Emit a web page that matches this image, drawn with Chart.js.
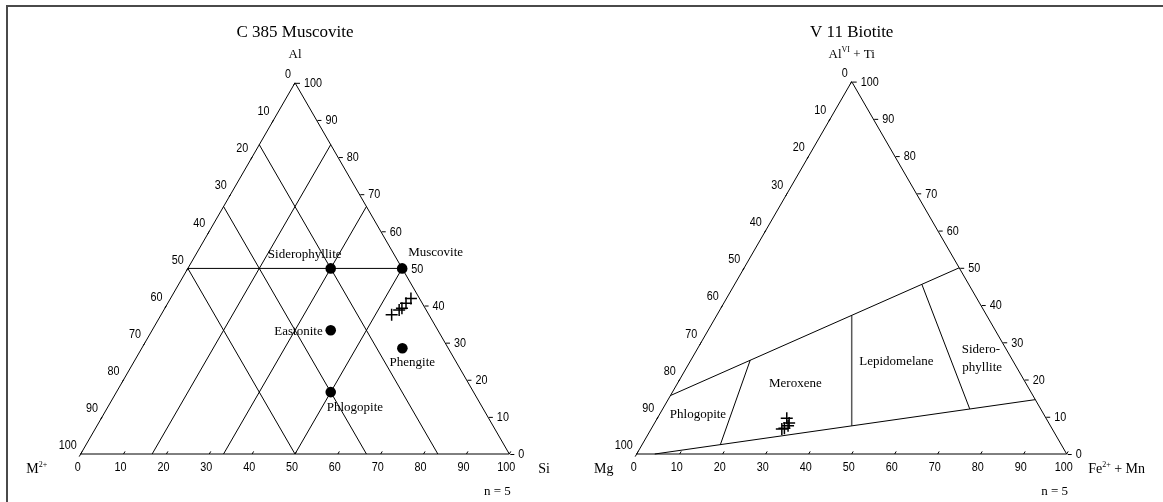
<!DOCTYPE html>
<html>
<head>
<meta charset="utf-8">
<script src="https://cdn.jsdelivr.net/npm/chart.js@4.4.1/dist/chart.umd.min.js"></script>
<style>
  html, body { margin: 0; padding: 0; background: #fff; }
  #wrap { position: relative; width: 1163px; height: 502px; overflow: hidden; background: #fff; }
  #wrap canvas { position: absolute; top: 0; }
  #frame { position: absolute; left: 6px; top: 5px; width: 1300px; height: 700px;
           border-left: 2px solid #4a4a4a; border-top: 2px solid #4a4a4a; pointer-events: none; }
</style>
</head>
<body>
<div id="wrap">
  <canvas id="muscovitePlot" width="581" height="502" style="left:0"></canvas>
  <canvas id="biotitePlot" width="582" height="502" style="left:581px"></canvas>
  <div id="frame"></div>
</div>
<script>
// ---- Ternary values in percent: [apex component, right-corner component] ----

const tickValues = [0, 10, 20, 30, 40, 50, 60, 70, 80, 90, 100];

// Muscovite diagram (Al apex, Si right corner, M2+ left corner)
const muscoviteGuides = [
  [[83.33, 0], [0, 83.33]],     // M2+ = 16.7
  [[66.67, 0], [0, 66.67]],     // M2+ = 33.3
  [[50, 0], [0, 50]],           // M2+ = 50
  [[83.33, 16.67], [0, 16.67]], // Si = 16.7
  [[66.67, 33.33], [0, 33.33]], // Si = 33.3
  [[50, 50], [0, 50]],          // Si = 50
  [[50, 0], [50, 50]]           // Al = 50
];
const micaEndMembers = ['Muscovite', 'Siderophyllite', 'Eastonite', 'Phengite', 'Phlogopite'];
const micaAl = [50, 50, 33.33, 28.5, 16.67];
const micaSi = [50, 33.33, 41.67, 60.8, 50];

// Sample C 385 analyses
const c385Al = [41.9, 40.6, 39.3, 38.8, 37.5];
const c385Si = [56.1, 55.6, 55.3, 54.9, 53.8];

// Biotite diagram (AlVI+Ti apex, Fe2+ + Mn right corner, Mg left corner)
const biotiteFieldLines = [
  [[15.7, 0], [50, 50]],
  [[0, 4.2], [14.6, 85.4]],
  [[25.2, 13.8], [2.5, 18.2]],
  [[37.2, 31.4], [7.6, 46.2]],
  [[45.6, 43.5], [12.1, 71.4]]
];
const biotiteFieldNames = ['Phlogopite', 'Meroxene', 'Lepidomelane', 'Sidero-', 'phyllite'];

// Sample V 11 analyses
const v11AlTi = [9.6, 8.3, 7.6, 6.9, 6.7];
const v11FeMn = [30.1, 31.3, 31.4, 30.9, 30.4];

// ---- Geometry helpers ----
const H = Math.sqrt(3) / 2;
function toXY(top, right) {
  return { x: (right + top / 2) / 100, y: (top / 100) * H };
}

const SERIF = '"Liberation Serif", "Times New Roman", serif';
const SANS = '"Liberation Sans", Arial, sans-serif';

// Draws text made of plain and superscript parts; y is the baseline.
function drawRich(ctx, parts, x, y, align, size) {
  const supSize = Math.round(size * 0.6);
  const widths = parts.map(([t, sup]) => {
    ctx.font = (sup ? supSize : size) + 'px ' + SERIF;
    return ctx.measureText(t).width;
  });
  const total = widths.reduce((a, b) => a + b, 0);
  let cx = align === 'center' ? x - total / 2 : (align === 'right' ? x - total : x);
  ctx.textAlign = 'left';
  ctx.textBaseline = 'alphabetic';
  parts.forEach(([t, sup], i) => {
    ctx.font = (sup ? supSize : size) + 'px ' + SERIF;
    ctx.fillText(t, cx, sup ? y - size * 0.4 : y);
    cx += widths[i];
  });
}

// Slightly condensed sans-serif numbers for the axis ticks.
function tickText(ctx, text, x, y, align) {
  ctx.save();
  ctx.translate(x, y);
  ctx.scale(0.9, 1);
  ctx.textAlign = align;
  ctx.textBaseline = 'middle';
  ctx.fillText(text, 0, 0);
  ctx.restore();
}

function lineDataset(seg, color, width) {
  return {
    data: seg.map(([t, r]) => toXY(t, r)),
    showLine: true, borderColor: color, borderWidth: width,
    pointRadius: 0, clip: false, order: 2
  };
}

function outlineDataset() {
  return lineDataset([[100, 0], [0, 100], [0, 0], [100, 0]], '#000', 1);
}

function decorPlugin(cfg) {
  return {
    id: 'ternaryDecor',
    beforeDatasetsDraw(chart) {
      const { ctx, scales: { x, y } } = chart;
      const P = (t, r) => { const p = toXY(t, r); return [x.getPixelForValue(p.x), y.getPixelForValue(p.y)]; };
      ctx.save();
      ctx.fillStyle = '#000';
      ctx.font = '13px ' + SERIF;
      cfg.labels.forEach(lb => {
        const [px, py] = P(lb.at[0], lb.at[1]);
        ctx.textAlign = lb.align;
        ctx.textBaseline = 'middle';
        ctx.fillText(lb.text, px + lb.dx, py + lb.dy);
      });
      ctx.restore();
    },
    afterDatasetsDraw(chart) {
      const { ctx, scales: { x, y } } = chart;
      const P = (t, r) => { const p = toXY(t, r); return [x.getPixelForValue(p.x), y.getPixelForValue(p.y)]; };
      ctx.save();
      ctx.strokeStyle = '#000';
      ctx.fillStyle = '#000';
      ctx.lineWidth = 1;
      ctx.font = '12px ' + SANS;
      tickValues.forEach(v => {
        // base axis (right-corner component)
        const [bx, by] = P(0, v);
        ctx.beginPath(); ctx.moveTo(bx, by); ctx.lineTo(bx + 1.5, by - 2.6); ctx.stroke();
        tickText(ctx, String(v), bx - 3, by + 14, 'center');
        // left edge (left-corner component)
        const [lx, ly] = P(100 - v, 0);
        ctx.beginPath(); ctx.moveTo(lx, ly); ctx.lineTo(lx - 1.5, ly + 2.6); ctx.stroke();
        tickText(ctx, String(v), lx - 4, ly - 8, 'right');
        // right edge (apex component)
        const [rx, ry] = P(v, 100 - v);
        ctx.beginPath(); ctx.moveTo(rx + 1, ry + 0.5); ctx.lineTo(rx + 5, ry + 0.5); ctx.stroke();
        tickText(ctx, String(v), rx + 9, ry + 1, 'left');
      });
      const [ax] = P(100, 0);
      const [lx0, ly0] = P(0, 0);
      const [rx0] = P(0, 100);
      drawRich(ctx, [[cfg.title, false]], ax, 37, 'center', 17);
      drawRich(ctx, cfg.apexLabel, ax, 57.5, 'center', 13);
      drawRich(ctx, cfg.leftLabel, lx0 + cfg.leftDx, ly0 + 19, 'center', 14);
      drawRich(ctx, cfg.rightLabel, rx0 + cfg.rightDx, ly0 + 19, 'left', 14);
      drawRich(ctx, [['n = 5', false]], rx0 - 12, ly0 + 41, 'center', 13);
      ctx.restore();
    }
  };
}

function makeChart(id, datasets, padding, cfg) {
  return new Chart(document.getElementById(id), {
    type: 'scatter',
    data: { datasets },
    options: {
      responsive: false,
      animation: false,
      events: [],
      layout: { padding },
      scales: {
        x: { type: 'linear', min: 0, max: 1, display: false },
        y: { type: 'linear', min: 0, max: H, display: false }
      },
      plugins: { legend: { display: false }, tooltip: { enabled: false } }
    },
    plugins: [decorPlugin(cfg)]
  });
}

// ---- Muscovite plot ----
const muscLabelStyle = [
  { align: 'left', dx: 6, dy: -16 },
  { align: 'center', dx: -26, dy: -13.5 },
  { align: 'right', dx: -8, dy: 1 },
  { align: 'center', dx: 10, dy: 14 },
  { align: 'left', dx: -4, dy: 15 }
];
const muscDatasets = [
  {
    data: c385Al.map((a, i) => toXY(a, c385Si[i])),
    pointStyle: 'cross', pointRadius: 6, borderColor: '#000', borderWidth: 1.5,
    clip: false, order: 0
  },
  {
    data: micaAl.map((a, i) => toXY(a, micaSi[i])),
    pointStyle: 'circle', pointRadius: 5.3, backgroundColor: '#000', borderWidth: 0,
    clip: false, order: 0
  },
  outlineDataset(),
  ...muscoviteGuides.map(seg => lineDataset(seg, '#000', 1))
];
const muscWidth = 428.6;
makeChart('muscovitePlot', muscDatasets,
  { left: 80.7, right: 581 - 80.7 - muscWidth, top: 454 - muscWidth * H, bottom: 48 },
  {
    title: 'C 385 Muscovite',
    apexLabel: [['Al', false]],
    leftLabel: [['M', false], ['2+', true]], leftDx: -44,
    rightLabel: [['Si', false]], rightDx: 29,
    labels: micaEndMembers.map((n, i) => ({ text: n, at: [micaAl[i], micaSi[i]], ...muscLabelStyle[i] }))
  });

// ---- Biotite plot ----
const fieldLabelAnchors = [[10.7, 8.9], [19.0, 27.4], [24.8, 48.0], [28.1, 66.0], [23.3, 68.7]];
const bioDatasets = [
  {
    data: v11AlTi.map((a, i) => toXY(a, v11FeMn[i])),
    pointStyle: 'cross', pointRadius: 6, borderColor: '#000', borderWidth: 1.5,
    clip: false, order: 0
  },
  outlineDataset(),
  ...biotiteFieldLines.map((seg, i) => lineDataset(seg, i === 3 ? '#5a5a5a' : '#000', i === 3 ? 1.5 : 1))
];
const bioWidth = 430;
makeChart('biotitePlot', bioDatasets,
  { left: 55.7, right: 582 - 55.7 - bioWidth, top: 454 - bioWidth * H, bottom: 48 },
  {
    title: 'V 11 Biotite',
    apexLabel: [['Al', false], ['VI', true], [' + Ti', false]],
    leftLabel: [['Mg', false]], leftDx: -33,
    rightLabel: [['Fe', false], ['2+', true], [' + Mn', false]], rightDx: 21.5,
    labels: biotiteFieldNames.map((n, i) => ({ text: n, at: fieldLabelAnchors[i], align: 'center', dx: 0, dy: 0 }))
  });
</script>
</body>
</html>
